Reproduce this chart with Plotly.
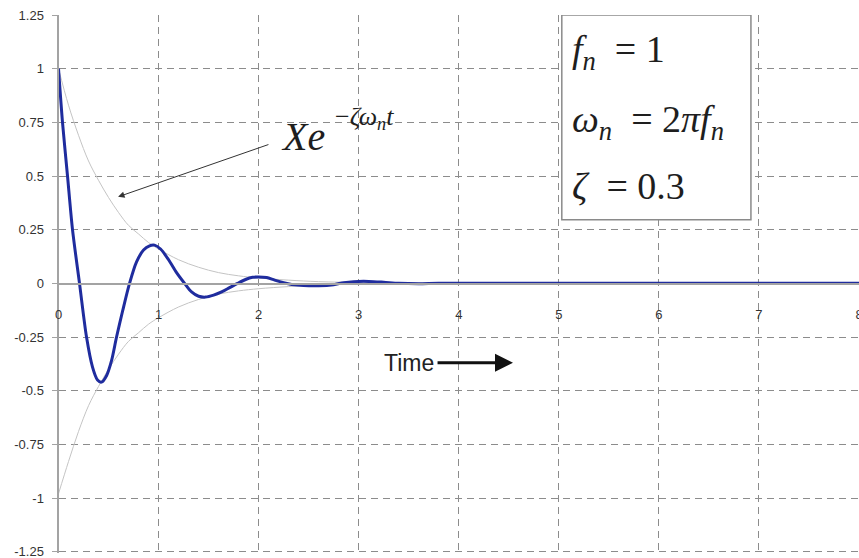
import plotly.graph_objects as go

# ---- data ----
t_resp = [0, 0.04, 0.09, 0.14, 0.21, 0.28, 0.34, 0.39, 0.43, 0.48, 0.53, 0.58, 0.64, 0.71,
          0.78, 0.85, 0.91, 0.96, 1.02, 1.10, 1.18, 1.26, 1.33, 1.40, 1.47, 1.55, 1.63,
          1.71, 1.79, 1.87, 1.94, 2.00, 2.08, 2.16, 2.25, 2.33, 2.45, 2.60, 2.75, 2.85,
          2.95, 3.10, 3.25, 3.40, 3.60, 3.80, 4.50, 6.00, 8.00]
x_resp = [1.0, 0.75, 0.5, 0.25, 0.0, -0.25, -0.39, -0.45, -0.46, -0.43, -0.36, -0.25, -0.13, 0.0,
          0.10, 0.155, 0.175, 0.178, 0.16, 0.11, 0.05, 0.0, -0.04, -0.06, -0.064, -0.055, -0.04,
          -0.02, 0.0, 0.018, 0.028, 0.03, 0.027, 0.015, 0.003, -0.005, -0.01, -0.011, -0.006, 0.003,
          0.008, 0.009, 0.005, 0.0, -0.002, 0.0, 0.0, 0.0, 0.0]

t_env = [0, 0.1, 0.2, 0.3, 0.4, 0.5, 0.6, 0.7, 0.8, 0.9, 1.0, 1.2, 1.4, 1.6, 1.8, 2.0,
         2.3, 2.6, 3.0, 3.5, 4.0]
env_upper = [1.0, 0.83, 0.69, 0.57, 0.48, 0.40, 0.33, 0.27, 0.23, 0.19, 0.16, 0.11, 0.075,
             0.05, 0.035, 0.025, 0.015, 0.008, 0.004, 0.0015, 0.0005]
env_lower = [-0.98, -0.83, -0.69, -0.57, -0.48, -0.40, -0.33, -0.27, -0.23, -0.19, -0.16,
             -0.11, -0.075, -0.05, -0.035, -0.025, -0.015, -0.008, -0.004, -0.0015, -0.0005]

x_ticks = [0, 1, 2, 3, 4, 5, 6, 7, 8]
x_ticktext = ["0", "1", "2", "3", "4", "5", "6", "7", "8"]
y_ticks = [1.25, 1, 0.75, 0.5, 0.25, 0, -0.25, -0.5, -0.75, -1, -1.25]
y_ticktext = ["1.25", "1", "0.75", "0.5", "0.25", "0", "-0.25", "-0.5", "-0.75", "-1", "-1.25"]

GRID = "#8c8c8c"
AXIS = "#a3a3a3"
TXT = "#333333"

fig = go.Figure()
fig.add_trace(go.Scatter(x=t_env, y=env_upper, mode="lines",
                         line=dict(color="#c4c4c4", width=1, shape="spline"),
                         showlegend=False, hoverinfo="skip"))
fig.add_trace(go.Scatter(x=t_env, y=env_lower, mode="lines",
                         line=dict(color="#c4c4c4", width=1, shape="spline"),
                         showlegend=False, hoverinfo="skip"))
fig.add_trace(go.Scatter(x=t_resp, y=x_resp, mode="lines",
                         line=dict(color="#1f2c9e", width=3, shape="spline", smoothing=0.8),
                         showlegend=False))

x0_frac = 58.5 / 859

fig.update_layout(
    width=859, height=558,
    margin=dict(l=0, r=0, t=15, b=5),
    paper_bgcolor="white", plot_bgcolor="white",
    font=dict(family="Liberation Sans, Arial", size=12, color=TXT),
    xaxis=dict(domain=[x0_frac, 1], range=[0, 8], anchor="free", position=0.5,
               showline=True, linecolor=AXIS, linewidth=2,
               showgrid=True, gridcolor=GRID, gridwidth=1, griddash="7px,5px",
               tickvals=x_ticks, ticktext=x_ticktext, ticks="",
               ticklabelstandoff=18, zeroline=False, ticklabeloverflow="allow",
               automargin=False,
               tickfont=dict(size=13, color=TXT)),
    yaxis=dict(domain=[0, 1], range=[-1.256, 1.25], anchor="x",
               showline=True, linecolor=AXIS, linewidth=2,
               ticks="outside", ticklen=5, tickcolor=AXIS, tickwidth=1,
               showgrid=True, gridcolor=GRID, gridwidth=1, griddash="7px,5px",
               tickvals=y_ticks, ticktext=y_ticktext, zeroline=False,
               ticklabelstandoff=5, ticklabeloverflow="allow", automargin=False,
               tickfont=dict(size=13, color=TXT)),
)

# parameter box
fig.add_shape(type="rect", xref="x", yref="y", x0=5.03, x1=6.92, y0=0.296, y1=1.25,
              fillcolor="white", line=dict(color="#8a8a8a", width=1.5), layer="above")

serif = "Liberation Serif, Times New Roman"
NB = "\u00a0"
box_lines = [
    (1.08, "<i>f</i><sub><i>n</i></sub>" + NB + NB + "=" + NB + "1"),
    (0.752, "<i>ω</i><sub><i>n</i></sub>" + NB + NB + "=" + NB + "2<i>πf</i><sub><i>n</i></sub>"),
    (0.455, "<i>ζ</i>" + NB + NB + "=" + NB + "0.3"),
]
for yy, txt in box_lines:
    fig.add_annotation(x=5.112, y=yy, xref="x", yref="y", text=txt, showarrow=False,
                       xanchor="left", yanchor="middle",
                       font=dict(family=serif, size=38, color="#1e1e1e"))

# envelope formula
fig.add_annotation(x=2.20, y=0.682, xref="x", yref="y", text="<i>Xe</i>", showarrow=False,
                   xanchor="left", yanchor="middle",
                   font=dict(family=serif, size=40, color="#1e1e1e"))
fig.add_annotation(x=2.745, y=0.77, xref="x", yref="y",
                   text="−<i>ζω</i><sub><i>n</i></sub><i>t</i>", showarrow=False,
                   xanchor="left", yanchor="middle",
                   font=dict(family=serif, size=26, color="#1e1e1e"))

# arrow pointing at the envelope
fig.add_annotation(x=0.595, y=0.403, ax=2.113, ay=0.649, xref="x", yref="y",
                   axref="x", ayref="y", text="", showarrow=True,
                   arrowhead=2, arrowsize=1.3, arrowwidth=1, arrowcolor="#333333")

# Time arrow
fig.add_annotation(x=3.77, y=-0.37, xref="x", yref="y", text="Time", showarrow=False,
                   xanchor="right", yanchor="middle",
                   font=dict(family="Liberation Sans, Arial", size=23, color="#222222"))
fig.add_annotation(x=4.542, y=-0.37, ax=3.773, ay=-0.37, xref="x", yref="y",
                   axref="x", ayref="y", text="", showarrow=True,
                   arrowhead=2, arrowsize=1.2, arrowwidth=3, arrowcolor="#111111")

fig.write_html("out.html")
